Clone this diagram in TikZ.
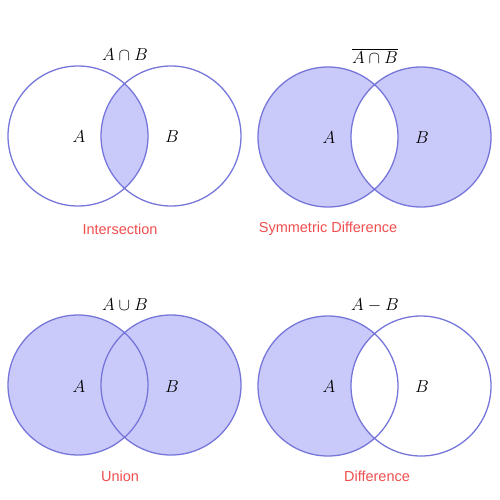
\documentclass[tikz,border=0pt]{standalone}
\usepackage{amsmath,amssymb}
\usepackage{fontspec}
\setsansfont{Liberation Sans}
\usepackage{tikz}
\usepackage{xcolor}
\definecolor{vennline}{RGB}{118,118,218}
\definecolor{vennfill}{RGB}{202,202,250}
\definecolor{capred}{RGB}{240,78,78}

\begin{document}
\begin{tikzpicture}[x=1pt,y=-1pt,
  every node/.style={font=\fontsize{17}{20}\selectfont},
  setline/.style={draw=vennline,line width=1.3pt},
  caption/.style={text=capred,font=\sffamily\fontsize{14.5}{17}\selectfont}]
\useasboundingbox (0,0) rectangle (500,500);
% intersection
\begin{scope}
\clip (78,136) circle (70);
\fill[vennfill] (171,136) circle (70);
\end{scope}
\draw[setline] (78,136) circle (70) (171,136) circle (70);
\node (capAB) at (125,55) {$A\cap B$};
\node (iA) at (79,137) {$A$};
\node (iB) at (172,137) {$B$};
\node[caption] (inter) at (120,229) {Intersection};
% symmetric difference
\fill[vennfill,even odd rule] (328,137) circle (70) (421,137) circle (70);
\draw[setline] (328,137) circle (70) (421,137) circle (70);
\node (ovAB) at (375,56) {$\overline{A\cap B}$};
\node (sA) at (329,138) {$A$};
\node (sB) at (422,138) {$B$};
\node[caption] (symdiff) at (328,229) {Symmetric Difference};
% union
\fill[vennfill] (78,385) circle (70) (171,385) circle (70);
\draw[setline] (78,385) circle (70) (171,385) circle (70);
\node (cupAB) at (125,305) {$A\cup B$};
\node (uA) at (79,387) {$A$};
\node (uB) at (172,387) {$B$};
\node[caption] (union) at (120,476) {Union};
% difference
\begin{scope}
\clip (328,386) circle (70);
\fill[vennfill,even odd rule] (328,386) circle (70) (421,386) circle (70);
\end{scope}
\draw[setline] (328,386) circle (70) (421,386) circle (70);
\node (minAB) at (375,305) {$A-B$};
\node (dA) at (329,387) {$A$};
\node (dB) at (422,387) {$B$};
\node[caption] (diff) at (377,476) {Difference};
\end{tikzpicture}
\end{document}
